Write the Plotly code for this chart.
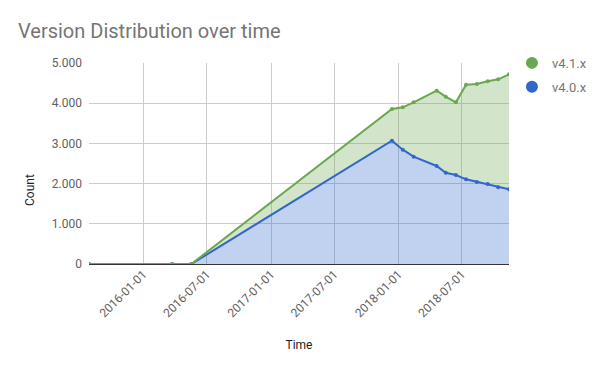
import plotly.graph_objects as go

dates = ["2015-07-30", "2016-03-24", "2016-05-18", "2017-12-13", "2018-01-13",
         "2018-02-13", "2018-04-20", "2018-05-16", "2018-06-14", "2018-07-13",
         "2018-08-13", "2018-09-13", "2018-10-13", "2018-11-13"]
v40 = [0, 0, 0, 3067, 2843, 2669, 2438, 2271, 2214, 2107, 2040, 1990, 1908, 1858]
v41 = [0, 0, 0, 789, 1055, 1353, 1873, 1891, 1808, 2353, 2438, 2555, 2686, 2861]

BLUE = "#3366cc"
GREEN = "#6aa84f"

fig = go.Figure()
fig.add_trace(go.Scatter(x=dates, y=v40, name="v4.0.x", stackgroup="one",
                         mode="lines+markers", line=dict(color=BLUE, width=2),
                         marker=dict(size=4, color=BLUE),
                         fillcolor="rgba(51,102,204,0.3)", showlegend=False))
fig.add_trace(go.Scatter(x=dates, y=v41, name="v4.1.x", stackgroup="one",
                         mode="lines+markers", line=dict(color=GREEN, width=2),
                         marker=dict(size=4, color=GREEN),
                         fillcolor="rgba(106,168,79,0.3)", showlegend=False))
# legend entries (circle symbols)
fig.add_trace(go.Scatter(x=[None], y=[None], name="v4.1.x", mode="markers",
                         legendgroup="a", marker=dict(size=12, color=GREEN)))
fig.add_trace(go.Scatter(x=[None], y=[None], name="v4.0.x", mode="markers",
                         legendgroup="b", marker=dict(size=12, color=BLUE)))

fig.update_layout(
    width=600, height=371,
    margin=dict(l=89, r=91, t=63, b=107, autoexpand=False),
    paper_bgcolor="white", plot_bgcolor="white",
    font=dict(family="Roboto", size=12, color="#616161"),
    separators=",.",
    title=dict(text="Version Distribution over time", x=18 / 600, xanchor="left",
               y=1 - 31 / 371, yanchor="middle", yref="container",
               font=dict(size=20, color="#757575")),
    showlegend=True,
    legend=dict(x=1.007, y=1.075, xanchor="left", yanchor="top",
                traceorder="grouped", itemwidth=30,
                font=dict(size=13, color="#757575"), itemsizing="constant",
                tracegroupgap=4, bgcolor="rgba(0,0,0,0)"),
    xaxis=dict(type="date", range=[dates[0], dates[-1]],
               tick0="2016-01-01", dtick="M6", tickformat="%Y-%m-%d",
               tickangle=-45, showgrid=True, gridcolor="#cccccc",
               showline=False, zeroline=False, ticks="",
               title=dict(text="Time", font=dict(size=12, color="#222222"), standoff=21)),
    yaxis=dict(range=[0, 5000], dtick=1000, tickformat=",d",
               showgrid=True, gridcolor="#cccccc", zeroline=True,
               zerolinecolor="#333333", zerolinewidth=1, ticks="",
               ticklabelstandoff=6, showline=False),
    annotations=[dict(text="Count", textangle=-90,
                      x=(30 - 89) / 420, y=(264 - 190) / 201,
                      xref="paper", yref="paper", showarrow=False,
                      xanchor="center", yanchor="middle",
                      font=dict(size=12, color="#222222"))],
    hovermode=False,
)

fig.write_html("out.html", config={"displayModeBar": False},
               post_script="document.body.style.margin='0';")
